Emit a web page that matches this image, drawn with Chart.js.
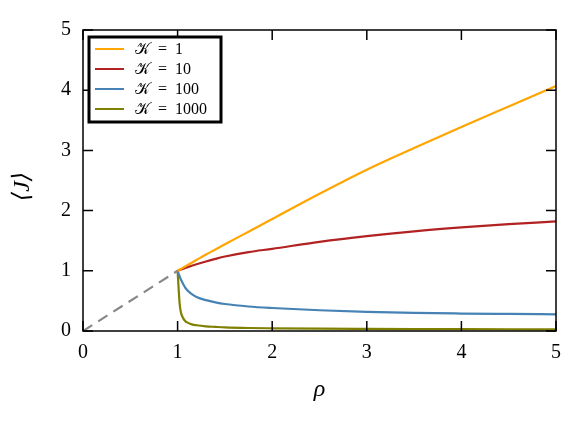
<!DOCTYPE html>
<html>
<head>
<meta charset="utf-8">
<script src="https://cdn.jsdelivr.net/npm/chart.js@4"></script>
<style>
html,body{margin:0;padding:0;background:#fff;}
#wrap{width:582px;height:423px;}
</style>
</head>
<body>
<div id="wrap"><canvas id="c" width="582" height="423"></canvas></div>
<script>
const rho = [1, 1.005, 1.01, 1.02, 1.03, 1.04, 1.06, 1.08, 1.1, 1.15, 1.2, 1.3, 1.4, 1.5, 1.75, 2, 2.5, 3, 3.5, 4, 4.5, 5];
const jK1 = [1, 1.0045, 1.009, 1.018, 1.027, 1.036, 1.054, 1.072, 1.09, 1.135, 1.18, 1.27, 1.355, 1.44, 1.65, 1.86, 2.28, 2.68, 3.04, 3.39, 3.73, 4.07];
const jK10 = [1, 1.003, 1.006, 1.012, 1.018, 1.024, 1.035, 1.046, 1.057, 1.083, 1.108, 1.155, 1.198, 1.237, 1.31, 1.365, 1.48, 1.575, 1.655, 1.72, 1.775, 1.82];
const jK100 = [1, 0.978, 0.956, 0.914, 0.872, 0.838, 0.775, 0.722, 0.683, 0.612, 0.565, 0.512, 0.475, 0.448, 0.407, 0.382, 0.345, 0.318, 0.30, 0.29, 0.283, 0.277];
const jK1000 = [1, 0.86, 0.73, 0.48, 0.35, 0.28, 0.21, 0.168, 0.143, 0.11, 0.095, 0.077, 0.068, 0.06, 0.05, 0.045, 0.038, 0.034, 0.031, 0.03, 0.029, 0.028];
const rhoDash = [0, 1];
const jDash = [0, 1];
const seriesLabels = ['𝒦\u2002=\u20021', '𝒦\u2002=\u200210', '𝒦\u2002=\u2002100', '𝒦\u2002=\u20021000'];
const xTicks = [0, 1, 2, 3, 4, 5];
const yTicks = [0, 1, 2, 3, 4, 5];

const colors = ['#ffa500', '#b22222', '#4682b4', '#808000'];
const pts = (xs, ys) => xs.map((x, i) => ({x: x, y: ys[i]}));
const serif = "'Liberation Serif', 'DejaVu Serif', serif";

const datasets = [
  {label: 'dash', data: pts(rhoDash, jDash), borderColor: '#888888', borderWidth: 2.2, borderDash: [11, 7], pointRadius: 0, tension: 0, isDash: true}
];
[jK1, jK10, jK100, jK1000].forEach((ys, i) => {
  datasets.push({label: seriesLabels[i], data: pts(rho, ys), borderColor: colors[i], borderWidth: 2.2,
    pointRadius: 0, cubicInterpolationMode: 'monotone', tension: 0.4});
});

const framePlugin = {
  id: 'frame',
  afterDatasetsDraw(chart) {
    const {ctx, chartArea: a, scales: {x, y}} = chart;
    ctx.save();
    ctx.strokeStyle = '#000';
    ctx.lineWidth = 1.5;
    ctx.strokeRect(a.left, a.top, a.right - a.left, a.bottom - a.top);
    const tl = 10;
    ctx.beginPath();
    xTicks.forEach(v => {
      const px = x.getPixelForValue(v);
      ctx.moveTo(px, a.bottom); ctx.lineTo(px, a.bottom - tl);
      ctx.moveTo(px, a.top); ctx.lineTo(px, a.top + tl);
    });
    yTicks.forEach(v => {
      const py = y.getPixelForValue(v);
      ctx.moveTo(a.left, py); ctx.lineTo(a.left + tl, py);
      ctx.moveTo(a.right, py); ctx.lineTo(a.right - tl, py);
    });
    ctx.stroke();

    // legend
    const bx = 89, by = 37, bw = 132, bh = 85;
    ctx.fillStyle = '#fff';
    ctx.fillRect(bx, by, bw, bh);
    ctx.lineWidth = 3;
    ctx.strokeStyle = '#000';
    ctx.strokeRect(bx, by, bw, bh);
    const items = chart.data.datasets.filter(d => !d.isDash);
    ctx.font = "16px " + serif;
    ctx.textBaseline = 'middle';
    ctx.textAlign = 'left';
    items.forEach((d, i) => {
      const yy = by + 12 + i * 20;
      ctx.strokeStyle = d.borderColor;
      ctx.lineWidth = 2;
      ctx.beginPath();
      ctx.moveTo(95, yy); ctx.lineTo(124, yy);
      ctx.stroke();
      ctx.fillStyle = '#000';
      ctx.fillText(d.label, 135, yy + 1);
    });
    ctx.restore();
  }
};

new Chart(document.getElementById('c'), {
  type: 'line',
  data: {datasets: datasets},
  options: {
    responsive: false,
    animation: false,
    layout: {padding: {top: 30, right: 26, left: 0, bottom: 0}},
    plugins: {legend: {display: false}, tooltip: {enabled: false}},
    scales: {
      x: {
        type: 'linear', min: 0, max: 5,
        afterFit: s => { s.height = 92; },
        afterBuildTicks: s => { s.ticks = xTicks.map(v => ({value: v})); },
        grid: {display: false, drawTicks: false},
        border: {display: false},
        ticks: {padding: 10, color: '#000', font: {family: serif, size: 20}, maxRotation: 0},
        title: {display: true, text: 'ρ', color: '#000', font: {family: serif, size: 24, style: 'italic'}, padding: {top: 0, bottom: 19}}
      },
      y: {
        type: 'linear', min: 0, max: 5,
        afterFit: s => { s.width = 83; },
        afterBuildTicks: s => { s.ticks = yTicks.map(v => ({value: v})); },
        grid: {display: false, drawTicks: false},
        border: {display: false},
        ticks: {padding: 12, color: '#000', font: {family: serif, size: 20}},
        title: {display: true, text: '⟨J⟩\u2002', color: '#000', font: {family: serif, size: 24, style: 'italic'}, padding: {top: 8, bottom: 0}}
      }
    }
  },
  plugins: [framePlugin]
});
</script>
</body>
</html>
